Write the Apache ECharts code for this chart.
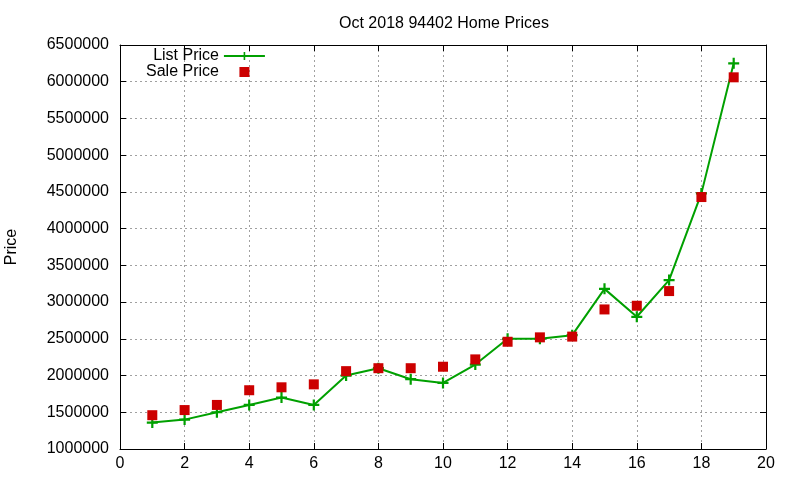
<!DOCTYPE html>
<html>
<head>
<meta charset="utf-8">
<script src="https://cdn.jsdelivr.net/npm/echarts@6/dist/echarts.min.js"></script>
<style>
  html, body { margin: 0; padding: 0; background: #fff; }
  #chart { width: 800px; height: 480px; }
</style>
</head>
<body>
<div id="chart"></div>
<script>
// values
const months = [1, 2, 3, 4, 5, 6, 7, 8, 9, 10, 11, 12, 13, 14, 15, 16, 17, 18, 19];
const listPrice = [1360000, 1400000, 1500000, 1600000, 1700000, 1600000, 2000000, 2100000, 1950000, 1900000,
  2150000, 2500000, 2500000, 2550000, 3180000, 2800000, 3300000, 4480000, 6250000];
const salePrice = [1460000, 1530000, 1600000, 1800000, 1840000, 1880000, 2060000, 2100000, 2100000, 2120000,
  2220000, 2460000, 2520000, 2530000, 2900000, 2950000, 3150000, 4430000, 6060000];

const font = 'Liberation Sans, Arial, sans-serif';
const plus = 'path://M4,0H6V4H10V6H6V10H4V6H0V4H4Z';
const square = 'path://M0,0H10V10H0Z';

const chart = echarts.init(document.getElementById('chart'));

const tickStyle = { show: true, inside: true, length: 6, lineStyle: { color: '#000', width: 1 } };

chart.setOption({
  animation: false,
  title: {
    text: 'Oct 2018 94402 Home Prices',
    left: 334, top: 11,
    textStyle: { fontFamily: font, fontSize: 16, fontWeight: 'normal', color: '#000' }
  },
  legend: {
    data: [
      { name: 'List Price' },
      { name: 'Sale Price', icon: square }
    ],
    orient: 'vertical',
    align: 'right',
    left: 141, top: 43,
    itemWidth: 41, itemHeight: 10, itemGap: 0,
    textStyle: { fontFamily: font, fontSize: 16, color: '#000' }
  },
  grid: { left: 120, right: 34, top: 45, bottom: 31, outerBoundsMode: 'none' },
  xAxis: [{
    type: 'value', min: 0, max: 20, interval: 2,
    axisLine: { show: true, onZero: false, lineStyle: { color: '#000' } },
    axisTick: tickStyle,
    axisLabel: { fontFamily: font, fontSize: 16, color: '#000', margin: 7 },
    splitLine: { show: true, lineStyle: { color: '#a0a0a0', type: [2, 3] } }
  }, {
    type: 'value', position: 'top', min: 0, max: 20, interval: 2,
    axisLine: { show: true, onZero: false, lineStyle: { color: '#000' } },
    axisTick: tickStyle, axisLabel: { show: false }, splitLine: { show: false }
  }],
  yAxis: [{
    type: 'value', min: 1000000, max: 6500000, interval: 500000,
    name: 'Price', nameLocation: 'middle', nameGap: 100, nameRotate: 90,
    nameTextStyle: { fontFamily: font, fontSize: 16, color: '#000' },
    axisLine: { show: true, onZero: false, lineStyle: { color: '#000' } },
    axisTick: tickStyle,
    axisLabel: { fontFamily: font, fontSize: 16, color: '#000', margin: 11, formatter: v => String(v) },
    splitLine: { show: true, lineStyle: { color: '#a0a0a0', type: [2, 3] } }
  }, {
    type: 'value', position: 'right', min: 1000000, max: 6500000, interval: 500000,
    axisLine: { show: true, onZero: false, lineStyle: { color: '#000' } },
    axisTick: tickStyle, axisLabel: { show: false }, splitLine: { show: false }
  }],
  series: [{
    name: 'List Price',
    type: 'line',
    data: months.map((m, i) => [m, listPrice[i]]),
    symbol: plus, symbolSize: 11,
    showAllSymbol: true,
    lineStyle: { color: '#00a000', width: 2 },
    itemStyle: { color: '#00a000' },
    z: 2
  }, {
    name: 'Sale Price',
    type: 'scatter',
    data: months.map((m, i) => [m, salePrice[i]]),
    symbol: square, symbolSize: 10,
    itemStyle: { color: '#cc0000', opacity: 1 },
    z: 3
  }]
});
</script>
</body>
</html>
